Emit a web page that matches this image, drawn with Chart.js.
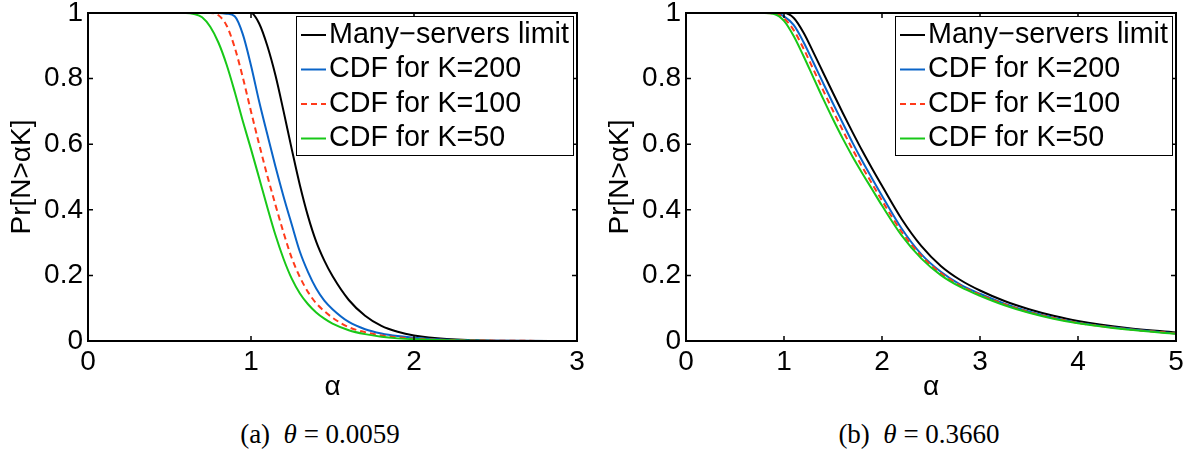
<!DOCTYPE html>
<html>
<head>
<meta charset="utf-8">
<title>Pr[N&gt;αK]</title>
<script src="https://cdn.jsdelivr.net/npm/chart.js@4.4.0/dist/chart.umd.min.js"></script>
<style>
  html, body { margin: 0; padding: 0; background: #fff; }
  body { width: 1194px; height: 454px; position: relative; overflow: hidden; }
  .panel { position: absolute; top: 0; height: 404px; }
  .panel canvas { display: block; }
  #panel-a { left: 0; width: 598px; }
  #panel-b { left: 598px; width: 596px; }
  .caption {
    position: absolute; top: 419px; width: 300px; line-height: 30px;
    text-align: center; color: #000;
    font-family: "Liberation Serif", "Times New Roman", serif; font-size: 27px;
  }
</style>
</head>
<body>
<div class="panel" id="panel-a"><canvas id="chart-a" width="598" height="404"></canvas></div>
<div class="panel" id="panel-b"><canvas id="chart-b" width="596" height="404"></canvas></div>
<div class="caption" style="left:170px">(a) &nbsp;<i>θ</i> = 0.0059</div>
<div class="caption" style="left:769px">(b) &nbsp;<i>θ</i> = 0.3660</div>
<script>
const seriesLabels = ['Many\u2212servers limit', 'CDF for K=200', 'CDF for K=100', 'CDF for K=50'];
const seriesColors = ['#000000', '#0a64c8', '#ff3a1a', '#18c818'];

// (a) theta = 0.0059
const alphaA = [0, 0.5, 0.6, 0.65, 0.7, 0.75, 0.8, 0.85, 0.9, 0.95, 1.0, 1.05, 1.1, 1.15, 1.2,
                1.25, 1.3, 1.35, 1.4, 1.45, 1.5, 1.6, 1.7, 1.8, 1.9, 2.0, 2.2, 2.5, 3.0];
const manyA = [1, 1, 1, 1, 1, 1, 1, 1, 1, 1, 1.0, 0.968, 0.9, 0.81, 0.7,
               0.585, 0.475, 0.38, 0.303, 0.245, 0.198, 0.125, 0.077, 0.046, 0.028, 0.017, 0.006, 0.001, 0];
const k200A = [1, 1, 1, 1, 1, 1, 1, 0.998, 0.99, 0.935, 0.84, 0.73, 0.63, 0.532, 0.44,
               0.355, 0.272, 0.21, 0.16, 0.123, 0.097, 0.058, 0.036, 0.023, 0.015, 0.01, 0.004, 0.001, 0];
const k100A = [1, 1, 1, 1, 1, 1.0, 0.993, 0.962, 0.895, 0.803, 0.7, 0.6, 0.504, 0.415, 0.33,
               0.253, 0.195, 0.149, 0.115, 0.091, 0.071, 0.042, 0.027, 0.017, 0.011, 0.007, 0.003, 0.001, 0];
const k50A  = [1, 1, 1.0, 0.997, 0.987, 0.958, 0.91, 0.843, 0.76, 0.67, 0.585, 0.497, 0.408, 0.323, 0.25,
               0.19, 0.145, 0.112, 0.087, 0.068, 0.053, 0.033, 0.021, 0.013, 0.008, 0.005, 0.002, 0, 0];

// (b) theta = 0.3660
const alphaB = [0, 0.5, 0.7, 0.8, 0.9, 1.0, 1.1, 1.2, 1.3, 1.4, 1.5, 1.6, 1.7, 1.8, 1.9,
                2.0, 2.2, 2.4, 2.6, 2.8, 3.0, 3.25, 3.5, 3.75, 4.0, 4.5, 5.0];
const manyB = [1, 1, 1, 1, 1, 1.0, 0.985, 0.94, 0.88, 0.818, 0.756, 0.695, 0.636, 0.579, 0.525,
               0.473, 0.372, 0.29, 0.229, 0.186, 0.154, 0.122, 0.097, 0.077, 0.061, 0.04, 0.026];
const k200B = [1, 1, 1, 1, 1, 0.99, 0.963, 0.911, 0.849, 0.786, 0.724, 0.664, 0.604, 0.548, 0.495,
               0.443, 0.343, 0.265, 0.211, 0.172, 0.144, 0.114, 0.09, 0.071, 0.056, 0.037, 0.023];
const k100B = [1, 1, 1, 1, 0.999, 0.984, 0.947, 0.891, 0.828, 0.764, 0.702, 0.642, 0.584, 0.53, 0.479,
               0.428, 0.333, 0.26, 0.207, 0.169, 0.141, 0.112, 0.088, 0.07, 0.055, 0.036, 0.023];
const k50B  = [1, 1, 1, 1, 0.997, 0.976, 0.929, 0.868, 0.803, 0.738, 0.676, 0.617, 0.562, 0.511, 0.462,
               0.413, 0.322, 0.252, 0.201, 0.165, 0.138, 0.109, 0.086, 0.068, 0.054, 0.035, 0.022];

const FONT = '"Liberation Sans", Arial, Helvetica, sans-serif';
Chart.defaults.font.family = FONT;
Chart.defaults.color = '#000';

function toPoints(xs, ys) {
    return xs.map(function(x, i) { return { x: x, y: ys[i] }; });
}

// box round the axes, inward ticks on all sides, legend in the top right corner
const framePlugin = {
    id: 'matlabFrame',
    afterDatasetsDraw(chart) {
        const ctx = chart.ctx;
        const a = chart.chartArea;
        const xs = chart.scales.x, ys = chart.scales.y;
        ctx.save();
        ctx.strokeStyle = '#000';
        ctx.lineWidth = 1.5;
        ctx.beginPath();
        xs.ticks.forEach(function(t) {
            const px = xs.getPixelForValue(t.value);
            ctx.moveTo(px, a.bottom); ctx.lineTo(px, a.bottom - 5);
            ctx.moveTo(px, a.top); ctx.lineTo(px, a.top + 5);
        });
        ys.ticks.forEach(function(t) {
            const py = ys.getPixelForValue(t.value);
            ctx.moveTo(a.left, py); ctx.lineTo(a.left + 5, py);
            ctx.moveTo(a.right, py); ctx.lineTo(a.right - 5, py);
        });
        ctx.stroke();
        ctx.lineWidth = 2;
        ctx.strokeRect(a.left, a.top, a.right - a.left, a.bottom - a.top);
        ctx.restore();
    },
    afterDraw(chart) {
        const ctx = chart.ctx;
        const a = chart.chartArea;
        const sets = chart.data.datasets;
        ctx.save();
        ctx.font = '28.7px ' + FONT;
        const textW = Math.max.apply(null, sets.map(function(d) { return ctx.measureText(d.label).width; }));
        const w = Math.round(textW + 37), h = 139;
        const left = Math.round(a.right - 4 - w), top = Math.round(a.top + 3);
        ctx.fillStyle = '#fff';
        ctx.fillRect(left, top, w, h);
        ctx.strokeStyle = '#000';
        ctx.lineWidth = 1;
        ctx.strokeRect(left + 0.5, top + 0.5, w, h);
        sets.forEach(function(d, i) {
            const y = top + 19 + i * 34.5;
            ctx.strokeStyle = d.borderColor;
            ctx.lineWidth = 2;
            ctx.setLineDash(d.borderDash || []);
            ctx.beginPath();
            ctx.moveTo(left + 5, y);
            ctx.lineTo(left + 30, y);
            ctx.stroke();
            ctx.setLineDash([]);
            ctx.fillStyle = '#000';
            ctx.textAlign = 'left';
            ctx.textBaseline = 'middle';
            ctx.fillText(d.label, left + 33, y);
        });
        ctx.restore();
    }
};

function makeChart(canvasId, xs, series, xMax, padRight) {
    const datasets = series.map(function(ys, i) {
        return {
            label: seriesLabels[i],
            data: toPoints(xs, ys),
            borderColor: seriesColors[i],
            borderWidth: 2,
            borderDash: i === 2 ? [6, 4] : [],
            pointRadius: 0,
            fill: false,
            cubicInterpolationMode: 'monotone',
            order: series.length - i
        };
    });
    return new Chart(document.getElementById(canvasId), {
        type: 'line',
        data: { datasets: datasets },
        options: {
            responsive: false,
            animation: false,
            events: [],
            layout: { padding: { left: 0, top: 13, right: padRight, bottom: 0 } },
            plugins: { legend: { display: false }, tooltip: { enabled: false } },
            scales: {
                x: {
                    type: 'linear', min: 0, max: xMax,
                    grid: { display: false, drawTicks: false }, border: { display: false },
                    ticks: { stepSize: 1, padding: 4, font: { size: 28 }, color: '#000' },
                    title: { display: true, text: 'α', font: { size: 28 }, color: '#000', padding: { top: 0, bottom: 0 } },
                    afterFit(s) { s.height = 63; s.paddingLeft = 0; s.paddingRight = 0; }
                },
                y: {
                    min: 0, max: 1,
                    grid: { display: false, drawTicks: false }, border: { display: false },
                    ticks: {
                        stepSize: 0.2, padding: 5, font: { size: 28 }, color: '#000',
                        callback: function(v) { return String(Math.round(v * 10) / 10); }
                    },
                    title: { display: true, text: 'Pr[N>αK]', font: { size: 28 }, color: '#000', padding: { top: 5, bottom: 0 } },
                    afterFit(s) { s.width = 88; s.paddingTop = 0; s.paddingBottom = 0; }
                }
            }
        },
        plugins: [framePlugin]
    });
}

makeChart('chart-a', alphaA, [manyA, k200A, k100A, k50A], 3, 21);
makeChart('chart-b', alphaB, [manyB, k200B, k100B, k50B], 5, 18);
</script>
</body>
</html>
